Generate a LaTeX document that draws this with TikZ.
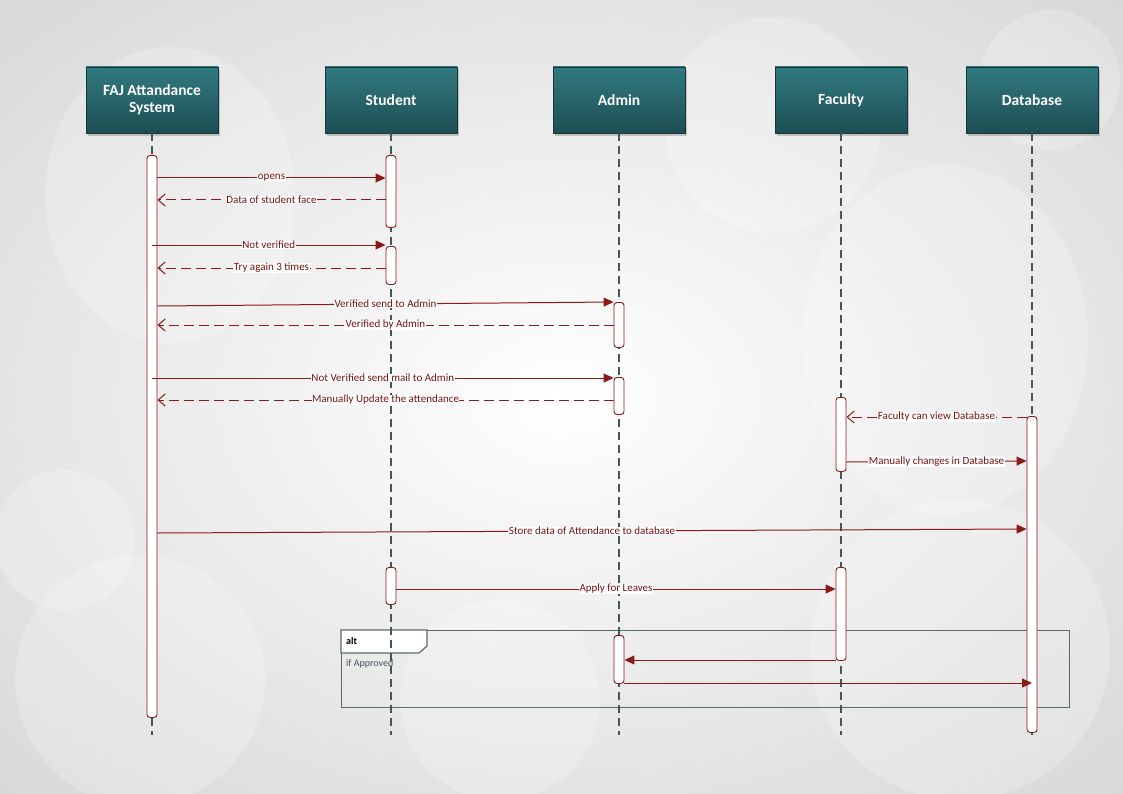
\documentclass[tikz,border=0pt]{standalone}
\usepackage{fontspec}
\setmainfont{Carlito}
\usetikzlibrary{positioning, arrows.meta, shadows}

\definecolor{msgred}{RGB}{139,26,26}
\definecolor{txtred}{RGB}{118,18,18}
\definecolor{tealtop}{RGB}{49,122,127}
\definecolor{tealbot}{RGB}{29,78,83}
\definecolor{lifegray}{RGB}{62,88,94}
\definecolor{framegray}{RGB}{92,106,106}

\begin{document}
\begin{tikzpicture}[x=1pt, y=-1pt,
    >=Stealth,
    head/.style={rectangle, minimum width=132pt, minimum height=66pt, top color=tealtop, bottom color=tealbot, draw=tealbot!70!black, text=white, font=\fontsize{15.5}{17}\selectfont\bfseries, align=center, drop shadow={opacity=0.4, shadow xshift=2pt, shadow yshift=-3pt}},
    life/.style={draw=lifegray, line width=1.2pt, dash pattern=on 8pt off 5pt},
    bar/.style={rectangle, rounded corners=3pt, draw=msgred, fill=white, line width=0.9pt, minimum width=10pt, inner sep=0pt, anchor=north},
    call/.style={draw=msgred, line width=1pt, -{Triangle[length=10pt,width=9pt]}},
    reply/.style={draw=msgred, line width=1pt, dash pattern=on 10pt off 5pt, -{Straight Barb[length=7pt,width=12pt]}},
    lbl/.style={fill=white, inner sep=0.5pt, text=txtred, font=\fontsize{11}{12}\selectfont},
    blob/.style={fill=white, opacity=0.22}
]
    \useasboundingbox (0,0) rectangle (1123,794);

    % Hintergrund
    \begin{scope}
        \clip (0,0) rectangle (1123,794);
        \shade[inner color=white, outer color=black!22] (-600,-400) rectangle (1723,1194);
        \fill[blob] (170,195) ellipse [x radius=125, y radius=148];
        \fill[blob] (140,680) circle [radius=125];
        \fill[blob] (65,540) circle [radius=70];
        \fill[blob] (773,125) circle [radius=108];
        \fill[blob] (1050,80) circle [radius=70];
        \fill[blob] (945,340) ellipse [x radius=143, y radius=175];
        \fill[blob] (500,700) circle [radius=100];
        \fill[blob] (960,650) circle [radius=150];
    \end{scope}

    % Kopfboxen
    \node[head] (faj) at (152,100) {FAJ Attandance\\System};
    \node[head] (stu) at (391,100) {Student};
    \node[head] (adm) at (619,100) {Admin};
    \node[head] (fac) at (841,100) {Faculty};
    \node[head] (db)  at (1032,100) {Database};

    % alt-Rahmen
    \node[draw=framegray, line width=1.4pt, minimum width=728pt, minimum height=77pt, anchor=north west, inner sep=0pt] (alt) at (341,630) {};
    \draw[draw=framegray, line width=1.2pt, fill=white] (alt.north west) -- ++(86,0) -- ++(0,16) -- ++(-8,7) -- (alt.north west |- 0,653) -- cycle;
    \node[anchor=west, font=\fontsize{10}{11}\selectfont\bfseries, inner sep=0pt] (altlbl) at (346,641) {alt};
    \node[anchor=west, font=\fontsize{10}{11}\selectfont, text=lifegray, inner sep=0pt] (altcond) at (346,664) {if Approved};

    % Lebenslinien
    \coordinate (fajend) at (152,735);
    \coordinate (stuend) at (391,735);
    \coordinate (admend) at (619,735);
    \coordinate (facend) at (841,735);
    \coordinate (dbend)  at (1032,735);
    \draw[life] (faj.south) -- (fajend);
    \draw[life] (stu.south) -- (stuend);
    \draw[life] (adm.south) -- (admend);
    \draw[life] (fac.south) -- (facend);
    \draw[life] (db.south)  -- (dbend);

    % Aktivierungsbalken
    \node[bar, minimum height=562pt] (faj1) at (152,155) {};
    \node[bar, minimum height=72pt]  (stu1) at (391,155) {};
    \node[bar, minimum height=38pt]  (stu2) at (391,246) {};
    \node[bar, minimum height=37pt]  (stu3) at (391,567) {};
    \node[bar, minimum height=45pt]  (adm1) at (619,302) {};
    \node[bar, minimum height=37pt]  (adm2) at (619,377) {};
    \node[bar, minimum height=48pt]  (adm3) at (619,635) {};
    \node[bar, minimum height=74pt]  (fac1) at (841,397) {};
    \node[bar, minimum height=93pt]  (fac2) at (841,567) {};
    \node[bar, minimum height=316pt] (db1)  at (1032,416) {};

    % Nachrichten
    \draw[call]  (faj1.east |- 0,178) -- node[lbl] {opens} (stu1.west |- 0,178);
    \draw[reply] (stu1.west |- 0,200) -- node[lbl] {Data of student face} (faj1.east |- 0,200);
    \draw[call]  (faj1 |- 0,245) -- node[lbl] {Not verified} (stu2.west |- 0,245);
    \draw[reply] (stu2.west |- 0,268) -- node[lbl] {Try again 3 times} (faj1.east |- 0,268);
    \draw[call]  (faj1.east |- 0,306) -- node[lbl] {Verified send to Admin} (adm1.west |- 0,302);
    \draw[reply] (adm1.west |- 0,325) -- node[lbl] {Verified by Admin} (faj1.east |- 0,325);
    \draw[call]  (faj1 |- 0,378) -- node[lbl] {Not Verified send mail to Admin} (adm2.west |- 0,378);
    \draw[reply] (adm2.west |- 0,400) -- node[lbl] {Manually Update the attendance} (faj1.east |- 0,400);
    \draw[reply] (db1.west |- 0,417) -- node[lbl] {Faculty can view Database} (fac1.east |- 0,417);
    \draw[call]  (fac1.east |- 0,462) -- node[lbl] {Manually changes in Database} (db1.west |- 0,461);
    \draw[call]  (faj1.east |- 0,533) -- node[lbl] {Store data of Attendance to database} (db1.west |- 0,529);
    \draw[call]  (stu3.east |- 0,589) -- node[lbl] {Apply for Leaves} (fac2.west |- 0,589);
    \draw[call]  (fac2.west |- 0,660) -- (adm3.east |- 0,660);
    \draw[call]  (adm3.east |- 0,683) -- (db1 |- 0,683);
\end{tikzpicture}
\end{document}
